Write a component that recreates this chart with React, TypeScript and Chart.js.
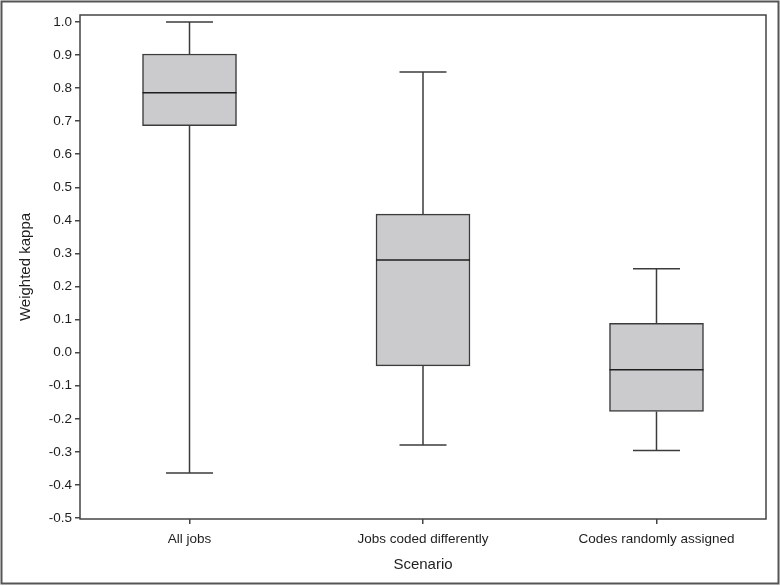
import React, { useEffect, useRef } from "react";
import { Chart, registerables } from "chart.js";

Chart.register(...registerables);

const categories = ["All jobs", "Jobs coded differently", "Codes randomly assigned"];
const mins = [-0.364, -0.279, -0.296];
const q1s = [0.686, -0.04, -0.178];
const medians = [0.786, 0.28, -0.052];
const q3s = [0.903, 0.419, 0.089];
const maxs = [1.0, 0.849, 0.254];
const yTickValues = [-0.5, -0.4, -0.3, -0.2, -0.1, 0.0, 0.1, 0.2, 0.3, 0.4, 0.5, 0.6, 0.7, 0.8, 0.9, 1.0];

const FONT = "'Liberation Sans', Arial, Helvetica, sans-serif";
const LINE = "#3c3c3c";

const boxPlugin = {
  id: "boxWhiskers",
  afterDatasetsDraw(chart: any) {
    const { ctx, chartArea, scales } = chart;
    const xs = scales.x;
    const ys = scales.y;
    const meta = chart.getDatasetMeta(0);
    ctx.save();
    ctx.strokeStyle = LINE;
    ctx.lineWidth = 1.5;
    categories.forEach((_, i) => {
      const x = xs.getPixelForValue(i);
      const bar = meta.data[i];
      const half = bar ? bar.width / 2 : 47;
      const cap = half / 2;
      const pMin = ys.getPixelForValue(mins[i]);
      const pMax = ys.getPixelForValue(maxs[i]);
      const pQ1 = ys.getPixelForValue(q1s[i]);
      const pQ3 = ys.getPixelForValue(q3s[i]);
      const pMed = ys.getPixelForValue(medians[i]);
      ctx.beginPath();
      ctx.moveTo(x, pQ3);
      ctx.lineTo(x, pMax);
      ctx.moveTo(x - cap, pMax);
      ctx.lineTo(x + cap, pMax);
      ctx.moveTo(x, pQ1);
      ctx.lineTo(x, pMin);
      ctx.moveTo(x - cap, pMin);
      ctx.lineTo(x + cap, pMin);
      ctx.stroke();
      ctx.beginPath();
      ctx.strokeStyle = "#1e1e1e";
      ctx.moveTo(x - half, pMed);
      ctx.lineTo(x + half, pMed);
      ctx.stroke();
      ctx.strokeStyle = LINE;
    });
    ctx.lineWidth = 1.5;
    ctx.strokeStyle = "#444";
    ctx.strokeRect(chartArea.left, chartArea.top, chartArea.right - chartArea.left, chartArea.bottom - chartArea.top);
    ctx.lineWidth = 2;
    ctx.strokeStyle = "#555";
    ctx.strokeRect(1.5, 1.5, chart.width - 3, chart.height - 4);
    ctx.restore();
  },
};

export default function App() {
  const ref = useRef<HTMLCanvasElement | null>(null);
  useEffect(() => {
    if (!ref.current) return;
    const chart = new Chart(ref.current, {
      type: "bar",
      data: {
        datasets: [
          {
            data: categories.map((_, i) => ({ x: i, y: [q1s[i], q3s[i]] })) as any,
            backgroundColor: "#cbcbcd",
            borderColor: LINE,
            borderWidth: 1.5,
            borderSkipped: false,
            barThickness: 94,
          },
        ],
      },
      options: {
        responsive: false,
        animation: false,
        events: [],
        layout: { padding: { top: 15, right: 14, left: 0, bottom: 0 } },
        plugins: { legend: { display: false }, tooltip: { enabled: false } },
        scales: {
          x: {
            type: "linear",
            offset: false,
            min: -0.469,
            max: 2.469,
            afterFit: (s: any) => {
              s.height = 67;
            },
            afterBuildTicks: (s: any) => {
              s.ticks = categories.map((_, i) => ({ value: i }));
            },
            grid: { offset: false, drawOnChartArea: false, drawTicks: true, tickLength: 5, color: "#444", lineWidth: 1.5 },
            border: { display: false },
            ticks: {
              autoSkip: false,
              maxRotation: 0,
              padding: 7,
              color: "#1e1e1e",
              font: { family: FONT, size: 13.5 },
              callback: (v: any) => categories[Math.round(Number(v))] ?? "",
            },
            title: {
              display: true,
              text: "Scenario",
              color: "#1e1e1e",
              font: { family: FONT, size: 15 },
              padding: { top: 0, bottom: 12 },
            },
          },
          y: {
            type: "linear",
            min: -0.503,
            max: 1.021,
            afterFit: (s: any) => {
              s.width = 80;
            },
            afterBuildTicks: (s: any) => {
              s.ticks = yTickValues.map((v) => ({ value: v }));
            },
            grid: { drawOnChartArea: false, drawTicks: true, tickLength: 5, color: "#444", lineWidth: 1.5 },
            border: { display: false },
            ticks: {
              padding: 3,
              color: "#1e1e1e",
              font: { family: FONT, size: 13.5 },
              callback: (v: any) => (Math.round(Number(v) * 10) / 10).toFixed(1),
            },
            title: {
              display: true,
              text: "Weighted kappa",
              color: "#1e1e1e",
              font: { family: FONT, size: 15 },
              padding: { top: 17, bottom: 0 },
            },
          },
        },
      },
      plugins: [boxPlugin],
    });
    return () => chart.destroy();
  }, []);
  return (
    <div style={{ position: "absolute", left: 0, top: 0, width: 780, height: 586, background: "#fff" }}>
      <canvas ref={ref} width={780} height={586} style={{ display: "block" }} />
    </div>
  );
}
